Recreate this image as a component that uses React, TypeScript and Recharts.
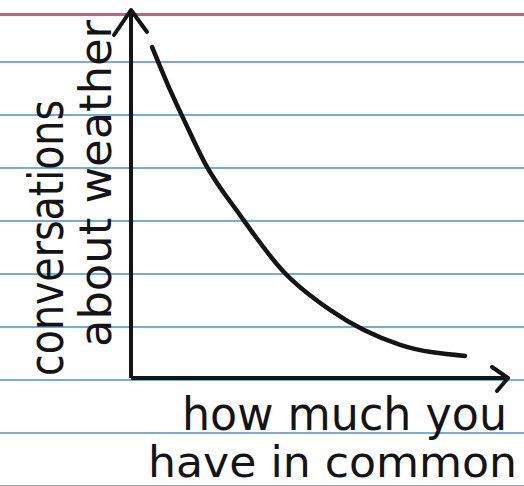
import { LineChart, Line, XAxis, YAxis, ReferenceDot, Label } from "recharts"

const commonness = [5.6, 9.8, 14.3, 19.6, 28.9, 40.1, 52.8, 71.4, 88.6]
const weatherTalk = [89.9, 79.6, 69.6, 58.4, 44.3, 29.3, 18.5, 9.0, 6.0]
const xLabelLines = ["how much you", "have in common"]
const yLabelLines = ["conversations", "about weather"]

const data = commonness.map((x, i) => ({ x, y: weatherTalk[i] }))

const INK = "#141414"
const FONT = "'DejaVu Sans', sans-serif"

// index card ruling
const cardBackground = [
  "linear-gradient(to bottom, transparent 13px, #d4587f 13px, #d4587f 16px, transparent 16px)",
  "linear-gradient(to bottom, #fff 0px, #fff 40px, transparent 40px)",
  "repeating-linear-gradient(to bottom, transparent 10px, transparent 61px, #78acd6 61px, #78acd6 63px)",
].join(", ")

const XArrow = (props: any) => {
  const { cx, cy } = props
  return (
    <path
      d={`M${cx - 16} ${cy - 11} L${cx} ${cy} L${cx - 11} ${cy + 13}`}
      fill="none"
      stroke={INK}
      strokeWidth={4}
      strokeLinecap="round"
      strokeLinejoin="round"
    />
  )
}

const YArrow = (props: any) => {
  const { cx, cy } = props
  return (
    <path
      d={`M${cx - 17} ${cy + 25} L${cx} ${cy} L${cx + 16} ${cy + 22}`}
      fill="none"
      stroke={INK}
      strokeWidth={4}
      strokeLinecap="round"
      strokeLinejoin="round"
    />
  )
}

const XLabelText = () => (
  <g fill={INK} fontFamily={FONT}>
    <text x={182} y={430} fontSize={46} textLength={325} lengthAdjust="spacingAndGlyphs">
      {xLabelLines[0]}
    </text>
    <text x={148} y={477} fontSize={43} textLength={369} lengthAdjust="spacingAndGlyphs">
      {xLabelLines[1]}
    </text>
  </g>
)

const YLabelText = () => (
  <g fill={INK} fontFamily={FONT}>
    <text
      x={63}
      y={376}
      fontSize={48}
      transform="rotate(-90, 63, 376)"
      textLength={276}
      lengthAdjust="spacingAndGlyphs"
    >
      {yLabelLines[0]}
    </text>
    <text
      x={111}
      y={347}
      fontSize={45}
      transform="rotate(-90, 111, 347)"
      textLength={327}
      lengthAdjust="spacingAndGlyphs"
    >
      {yLabelLines[1]}
    </text>
  </g>
)

export default function App() {
  return (
    <div
      style={{
        position: "absolute",
        top: 0,
        left: 0,
        width: 524,
        height: 486,
        backgroundColor: "#fff",
        backgroundImage: cardBackground,
      }}
    >
      <LineChart
        width={524}
        height={486}
        data={data}
        margin={{ top: 10, right: 16, left: 130, bottom: 107 }}
      >
        <XAxis
          type="number"
          dataKey="x"
          domain={[0, 100]}
          height={1}
          tick={false}
          tickLine={false}
          axisLine={{ stroke: INK, strokeWidth: 4 }}
        >
          <Label content={XLabelText} />
        </XAxis>
        <YAxis
          type="number"
          domain={[0, 100]}
          width={1}
          tick={false}
          tickLine={false}
          axisLine={{ stroke: INK, strokeWidth: 4 }}
        >
          <Label content={YLabelText} />
        </YAxis>
        <ReferenceDot x={100} y={0} ifOverflow="visible" shape={XArrow} />
        <ReferenceDot x={0} y={100} ifOverflow="visible" shape={YArrow} />
        <Line
          type="monotone"
          dataKey="y"
          stroke={INK}
          strokeWidth={4.5}
          strokeLinecap="round"
          dot={false}
          isAnimationActive={false}
        />
      </LineChart>
    </div>
  )
}
